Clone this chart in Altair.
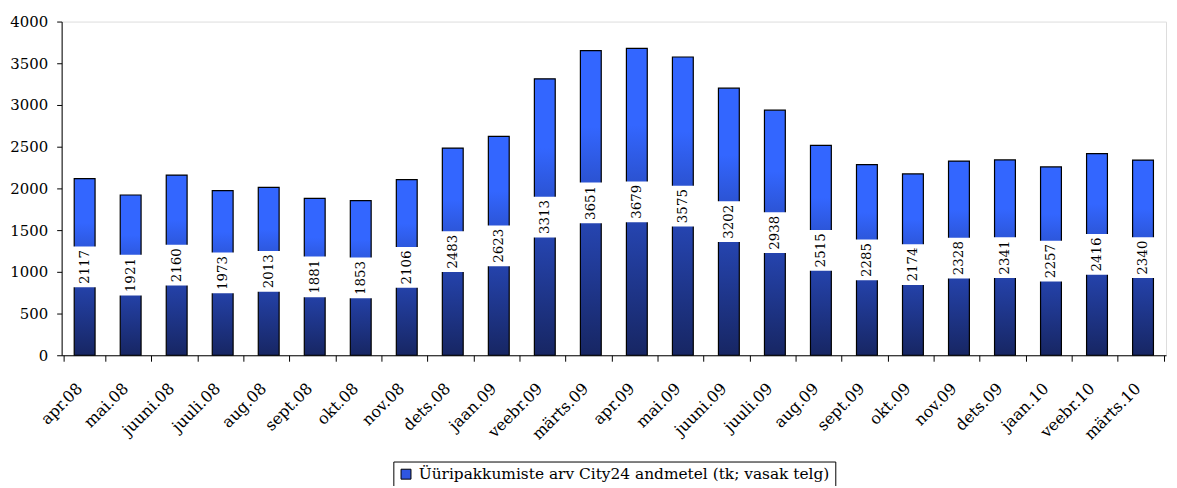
import altair as alt
import pandas as pd

months = ["apr.08", "mai.08", "juuni.08", "juuli.08", "aug.08", "sept.08", "okt.08", "nov.08",
          "dets.08", "jaan.09", "veebr.09", "märts.09", "apr.09", "mai.09", "juuni.09", "juuli.09",
          "aug.09", "sept.09", "okt.09", "nov.09", "dets.09", "jaan.10", "veebr.10", "märts.10"]
values = [2117, 1921, 2160, 1973, 2013, 1881, 1853, 2106,
          2483, 2623, 3313, 3651, 3679, 3575, 3202, 2938,
          2515, 2285, 2174, 2328, 2341, 2257, 2416, 2340]
series_name = "Üüripakkumiste arv City24 andmetel (tk; vasak telg)"

df = pd.DataFrame({"month": months, "value": values, "series": series_name})

FONT = "DejaVu Serif"
gradient = {
    "gradient": "linear", "x1": 0, "y1": 1, "x2": 0, "y2": 0,
    "stops": [
        {"offset": 0.0, "color": "#172663"},
        {"offset": 0.45, "color": "#2646b4"},
        {"offset": 0.75, "color": "#3366ff"},
        {"offset": 1.0, "color": "#3366ff"},
    ],
}

x_enc = alt.X("month:N", sort=months, title=None,
              axis=alt.Axis(labelAngle=-45, labelAlign="right", labelBaseline="top",
                            labelFont=FONT, labelFontSize=16, labelColor="black",
                            tickBand="extent", tickColor="black", tickSize=6,
                            domainColor="black", labelPadding=19, labelOffset=-11))
y_scale = alt.Scale(domain=[0, 4000], nice=False)

base = alt.Chart(df)

bars = base.mark_bar(width=21, fill=gradient, stroke="black", strokeWidth=1.2).encode(
    x=x_enc,
    y=alt.Y("value:Q", scale=y_scale, title=None,
            axis=alt.Axis(values=list(range(0, 4001, 500)), grid=False, format="d",
                          labelFont=FONT, labelFontSize=15, labelColor="black",
                          tickColor="black", tickSize=5, domainColor="black",
                          labelPadding=9)),
)

boxes = base.transform_calculate(
    lo="datum.value / 2 - 244", hi="datum.value / 2 + 244"
).mark_bar(width=25, fill="white", stroke=None).encode(
    x=alt.X("month:N", sort=months),
    y=alt.Y("lo:Q", scale=y_scale),
    y2="hi:Q",
)

labels = base.transform_calculate(mid="datum.value / 2").mark_text(
    angle=270, font=FONT, fontSize=13.5, color="black", baseline="middle", align="center"
).encode(
    x=alt.X("month:N", sort=months),
    y=alt.Y("mid:Q", scale=y_scale),
    text=alt.Text("value:Q", format="d"),
)

legend_layer = base.mark_square(opacity=0, size=10).encode(
    x=alt.X("month:N", sort=months),
    y=alt.Y("value:Q", scale=y_scale),
    color=alt.Color("series:N", scale=alt.Scale(range=["#2f56e0"]), title=None,
                    legend=alt.Legend(orient="none", legendX=334, legendY=443,
                                      symbolType="square", symbolSize=100,
                                      symbolOpacity=1, symbolStrokeColor="black",
                                      symbolStrokeWidth=1,
                                      labelFont=FONT, labelFontSize=15.5, labelColor="black",
                                      labelLimit=600, labelOffset=5,
                                      strokeColor="black", padding=5)),
)

chart = alt.layer(bars, boxes, labels, legend_layer).properties(
    width=1112, height=336,
    autosize=alt.AutoSizeParams(type="none"),
    padding={"left": 54, "top": 12, "right": 3, "bottom": 130},
).configure_view(stroke="#888888", strokeWidth=1).configure(background="white")

chart.save("out.html", embed_options={"renderer": "svg", "actions": False})
